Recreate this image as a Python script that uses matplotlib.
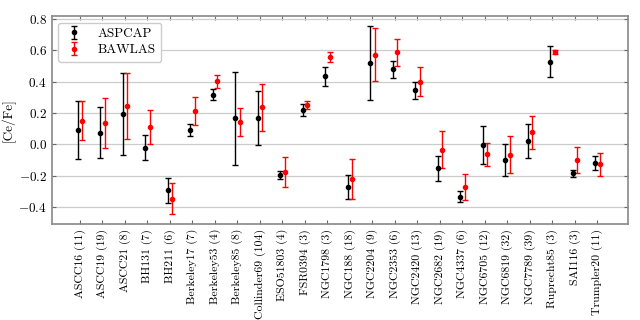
import matplotlib
matplotlib.use("Agg")
import matplotlib.pyplot as plt
import numpy as np

plt.rcParams["font.family"] = ["cmr10", "DejaVu Serif"]
plt.rcParams["mathtext.fontset"] = "cm"
plt.rcParams["axes.formatter.use_mathtext"] = True

clusters = ["ASCC16", "ASCC19", "ASCC21", "BH131", "BH211", "Berkeley17",
            "Berkeley53", "Berkeley85", "Collinder69", "ESO51803", "FSR0394",
            "NGC1798", "NGC188", "NGC2204", "NGC2353", "NGC2420", "NGC2682",
            "NGC4337", "NGC6705", "NGC6819", "NGC7789", "Ruprecht85",
            "SAI116", "Trumpler20"]
n_stars = [11, 19, 8, 7, 6, 7, 4, 8, 104, 4, 3, 3, 18, 9, 6, 13, 19, 6,
           12, 32, 39, 3, 3, 11]

aspcap = [0.09, 0.074, 0.194, -0.022, -0.295, 0.09,
          0.318, 0.166, 0.170, -0.199, 0.218, 0.435,
          -0.273, 0.520, 0.478, 0.345, -0.155, -0.336,
          -0.007, -0.101, 0.021, 0.526, -0.187, -0.118]
aspcap_err = [0.185, 0.165, 0.26, 0.08, 0.081, 0.04,
              0.035, 0.298, 0.172, 0.025, 0.039, 0.06,
              0.078, 0.235, 0.055, 0.056, 0.081, 0.036,
              0.122, 0.105, 0.11, 0.099, 0.021, 0.044]

bawlas = [0.151, 0.135, 0.243, 0.112, -0.347, 0.211,
          0.402, 0.142, 0.237, -0.177, 0.253, 0.559,
          -0.222, 0.573, 0.589, 0.400, -0.034, -0.274,
          -0.065, -0.066, 0.076, 0.591, -0.100, -0.127]
bawlas_err = [0.123, 0.161, 0.21, 0.11, 0.10, 0.091,
              0.043, 0.088, 0.15, 0.094, 0.025, 0.031,
              0.125, 0.17, 0.087, 0.094, 0.119, 0.085,
              0.075, 0.117, 0.105, 0.014, 0.083, 0.074]

labels = [f"{c} ({n})" for c, n in zip(clusters, n_stars)]
x = np.arange(len(clusters))

fig = plt.figure(figsize=(6.4, 3.2), dpi=100)
ax = fig.add_axes([0.081, 0.30, 0.90, 0.65])

ax.errorbar(x - 0.1, aspcap, yerr=aspcap_err, fmt="o", color="black",
            ms=3, lw=1, capsize=2.5, capthick=1, label="ASPCAP", zorder=3)
ax.errorbar(x + 0.1, bawlas, yerr=bawlas_err, fmt="o", color="red",
            ms=3, lw=1, capsize=2.5, capthick=1, label="BAWLAS", zorder=3)

ax.set_xlim(-1.25, 24.35)
ax.set_ylim(-0.51, 0.82)
ax.set_xticks(x)
ax.set_xticklabels(labels, rotation=90, fontsize=8.5)
ax.set_yticks([-0.4, -0.2, 0.0, 0.2, 0.4, 0.6, 0.8])
ax.tick_params(axis="y", labelsize=9.5)
ax.set_ylabel("[Ce/Fe]", fontsize=9.5, labelpad=2)
ax.yaxis.grid(True, color="#cccccc", lw=0.9)
ax.set_axisbelow(True)
ax.tick_params(direction="in", top=True, right=True, color="#666666",
               length=3)
for s in ax.spines.values():
    s.set_color("#888888")
    s.set_linewidth(1.2)

ax.legend(loc="upper left", fontsize=9.5, framealpha=1, edgecolor="#cccccc",
          handletextpad=1.0, handlelength=1.6, labelspacing=0.3,
          borderpad=0.4)

fig.savefig("out.png", dpi=100)
